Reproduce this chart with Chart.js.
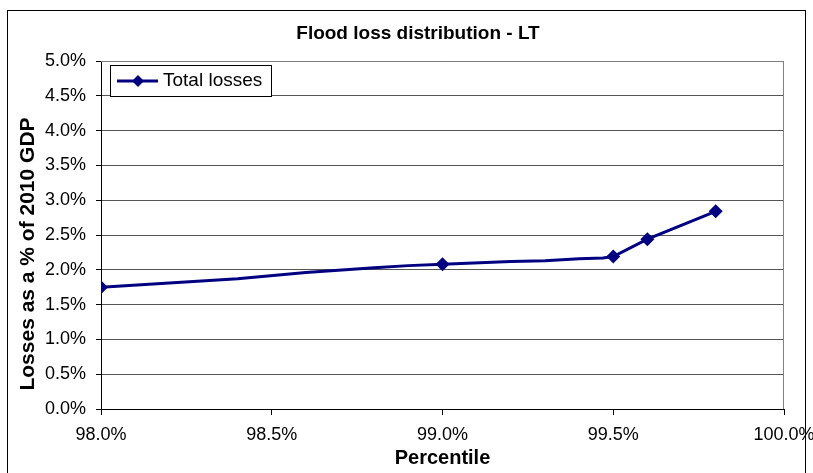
<!DOCTYPE html>
<html>
<head>
<meta charset="utf-8">
<script src="https://cdn.jsdelivr.net/npm/chart.js@4/dist/chart.umd.min.js"></script>
<style>
  html, body { margin: 0; padding: 0; background: #fff; }
  #wrap { width: 813px; height: 473px; }
</style>
</head>
<body>
<div id="wrap"><canvas id="grafico"></canvas></div>
<script>
// Dati (percentile, perdite in % del PIL 2010)
var percentili = [98.0, 98.2, 98.4, 98.6, 98.8, 98.9, 99.0, 99.2, 99.3, 99.4, 99.47, 99.5, 99.6, 99.8];
var perdite    = [1.75, 1.81, 1.87, 1.96, 2.03, 2.06, 2.08, 2.12, 2.13, 2.16, 2.17, 2.19, 2.44, 2.84];
// percentili con il marcatore
var conMarcatore = [98.0, 99.0, 99.5, 99.6, 99.8];

var titolo = 'Flood loss distribution - LT';
var etichettaSerie = 'Total losses';
var titoloX = 'Percentile';
var titoloY = 'Losses as a % of 2010 GDP';

var blu = '#000080';
var font = "'Liberation Sans', Arial, sans-serif";

var punti = percentili.map(function (p, i) { return { x: p, y: perdite[i] }; });

// bordo esterno, titoli, bordo area grafico e legenda dentro il grafico
var decorazioni = {
  id: 'decorazioni',
  beforeDraw: function (chart) {
    var c = chart.ctx;
    c.save();
    c.fillStyle = '#fff';
    c.fillRect(0, 0, chart.width, chart.height);
    c.strokeStyle = '#000';
    c.lineWidth = 1;
    c.strokeRect(7.5, 10.5, 798, 470);
    c.restore();
  },
  afterDraw: function (chart) {
    var c = chart.ctx;
    var a = chart.chartArea;
    c.save();
    c.strokeStyle = '#808080';
    c.lineWidth = 1;
    c.beginPath();
    c.moveTo(a.left, a.top + 0.5);
    c.lineTo(a.right - 0.5, a.top + 0.5);
    c.lineTo(a.right - 0.5, a.bottom);
    c.stroke();

    // titolo
    c.fillStyle = '#000';
    c.textAlign = 'center';
    c.textBaseline = 'middle';
    c.font = 'bold 19px ' + font;
    c.fillText(titolo, 418, 34);

    // titolo asse y
    c.save();
    c.translate(28, 254);
    c.rotate(-Math.PI / 2);
    c.font = 'bold 21px ' + font;
    c.fillText(titoloY, 0, 0);
    c.restore();

    // legenda
    var lx = a.left + 9, ly = a.top + 4, lw = 161, lh = 31;
    c.fillStyle = '#fff';
    c.fillRect(lx, ly, lw, lh);
    c.strokeStyle = '#000';
    c.strokeRect(lx + 0.5, ly + 0.5, lw, lh);
    var cy = ly + lh / 2 + 0.5;
    c.strokeStyle = blu;
    c.lineWidth = 3;
    c.beginPath();
    c.moveTo(lx + 7, cy);
    c.lineTo(lx + 48, cy);
    c.stroke();
    c.fillStyle = blu;
    c.beginPath();
    c.moveTo(lx + 28, cy - 6);
    c.lineTo(lx + 34, cy);
    c.lineTo(lx + 28, cy + 6);
    c.lineTo(lx + 22, cy);
    c.closePath();
    c.fill();
    c.fillStyle = '#000';
    c.font = '19px ' + font;
    c.textAlign = 'left';
    c.fillText(etichettaSerie, lx + 53, cy);
    c.restore();
  }
};

var grafico = new Chart(document.getElementById('grafico').getContext('2d'), {
  type: 'line',
  data: {
    datasets: [{
      label: etichettaSerie,
      data: punti,
      borderColor: blu,
      backgroundColor: blu,
      borderWidth: 3,
      pointStyle: 'rectRot',
      pointRadius: function (ctx) {
        var p = ctx.raw ? ctx.raw.x : null;
        return conMarcatore.indexOf(p) >= 0 ? 7 : 0;
      },
      pointBorderWidth: 0,
      tension: 0
    }]
  },
  options: {
    responsive: true,
    maintainAspectRatio: false,
    animation: false,
    layout: { padding: { left: 0, right: 29, top: 61, bottom: 0 } },
    plugins: {
      legend: { display: false },
      tooltip: { enabled: false },
      title: { display: false }
    },
    scales: {
      x: {
        type: 'linear',
        min: 98,
        max: 100,
        afterFit: function (s) { s.height = 64; s.paddingLeft = 0; s.paddingRight = 0; },
        ticks: {
          stepSize: 0.5,
          color: '#000',
          font: { family: font, size: 18 },
          padding: 9,
          maxRotation: 0,
          callback: function (v) { return v.toFixed(1) + '%'; }
        },
        grid: { drawOnChartArea: false, tickLength: 6, tickColor: '#000', color: '#000' },
        border: { color: '#000', width: 1 },
        title: {
          display: true,
          text: titoloX,
          color: '#000',
          font: { family: font, size: 20, weight: 'bold' },
          padding: { top: 3, bottom: 3 }
        }
      },
      y: {
        min: 0,
        max: 5,
        afterFit: function (s) { s.width = 101; s.paddingTop = 0; s.paddingBottom = 0; },
        ticks: {
          stepSize: 0.5,
          color: '#000',
          font: { family: font, size: 18 },
          padding: 10,
          callback: function (v) { return v.toFixed(1) + '%'; }
        },
        grid: { color: '#555', tickLength: 5, tickColor: '#000' },
        border: { color: '#000', width: 1 }
      }
    }
  },
  plugins: [decorazioni]
});
</script>
</body>
</html>
